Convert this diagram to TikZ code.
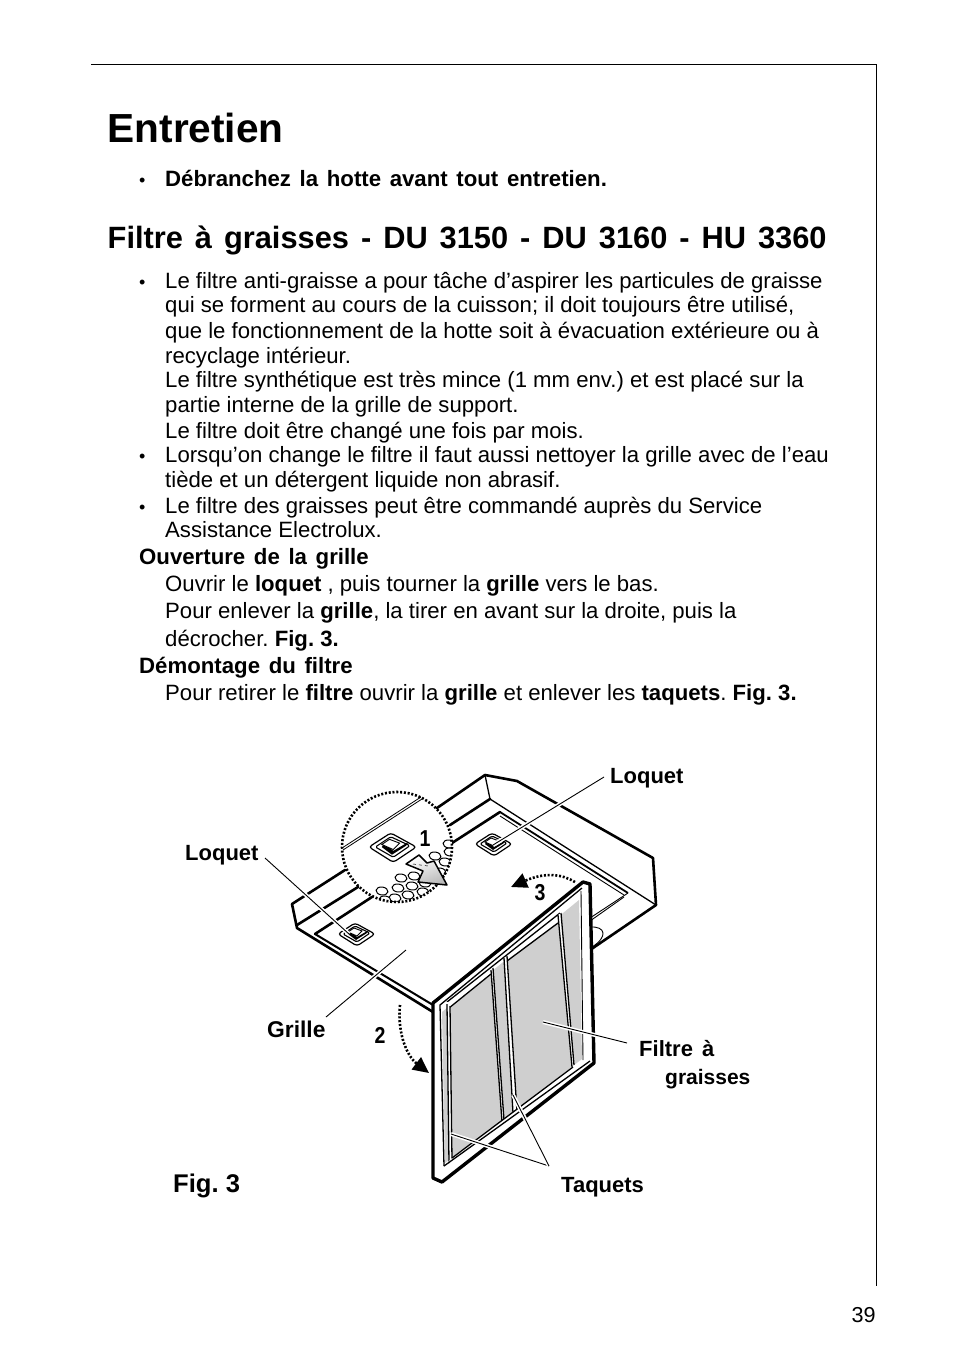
\documentclass[tikz,border=0pt]{standalone}
\usepackage{graphicx}
\usepackage{fontspec}
\setmainfont{Liberation Sans}
\newfontfamily\widebold[WordSpace=1.4]{Liberation Sans Bold}
\usetikzlibrary{arrows.meta,shadings,shapes.geometric}
\newcommand{\stepnum}[1]{\scalebox{0.85}[1]{#1}}
\tikzset{
    bodytext/.style={anchor=base west, inner sep=0pt, font=\fontsize{22.15}{24}\selectfont},
    bulletmark/.style={anchor=base west, inner sep=0pt, font=\fontsize{18}{20}\selectfont},
    subhead/.style={bodytext, font=\fontsize{22.21}{24}\selectfont\widebold},
    callout/.style={anchor=base west, inner sep=0pt, font=\fontsize{22}{24}\selectfont\bfseries},
    stepmark/.style={anchor=base, inner sep=0pt, font=\fontsize{23}{26}\selectfont\bfseries},
    thick edge/.style={line width=2.6pt, line join=round, line cap=round},
    thin edge/.style={line width=0.9pt},
    frame edge/.style={line width=1.3pt},
    leader/.style={line width=0.9pt, preaction={draw, white, line width=4pt}},
    dots/.style={line width=2.6pt, dash pattern=on 2pt off 1.8pt},
    hole/.style={draw, fill=white, line width=1pt},
    latch/.pic={
        \draw [line width=1.2pt, fill=white, rounded corners=3pt] (-18,0) -- (-1,-11) -- (19,0) -- (1,12) -- cycle;
        \draw [line width=1.1pt, fill=white, rounded corners=1.5pt] (-13,0) -- (-1,-8) -- (14,-1) -- (1,8) -- cycle;
        \fill [black] (-8,0) -- (0,6) -- (11,-1) -- (13,-4) -- (1,3) -- (-6,-3) -- cycle;
        \draw [line width=0.9pt, fill=white] (-8,-2) -- (-2,-6) -- (6,-3) -- (1,2) -- cycle;
    },
}
\frenchspacing
\begin{document}
\begin{tikzpicture}[x=1pt, y=-1pt, >={Triangle[length=16pt, width=15pt]}]
    \useasboundingbox (0,0) rectangle (954,1352);
    % Page rule
    \draw [line width=0.9pt] (91,64.6) -- (876.6,64.6) -- (876.6,1286);

    % Text
    \node [anchor=base west, inner sep=0pt, font=\fontsize{40.6}{44}\selectfont\bfseries] (title) at (107.5,142) {Entretien};
    \node [bulletmark] (b0) at (139,186) {•};
    \node [subhead] (warn) at (165,186) {Débranchez la hotte avant tout entretien.};
    \node [anchor=base west, inner sep=0pt, font=\fontsize{30.8}{32}\selectfont\widebold] (head) at (107.5,248) {Filtre à graisses - DU 3150 - DU 3160 - HU 3360};
    \node [bulletmark] (b1) at (139,288) {•};
    \node [bodytext] (l1) at (165,288) {Le filtre anti-graisse a pour tâche d’aspirer les particules de graisse};
    \node [bodytext] (l2) at (165,312) {qui se forment au cours de la cuisson; il doit toujours être utilisé,};
    \node [bodytext] (l3) at (165,338) {que le fonctionnement de la hotte soit à évacuation extérieure ou à};
    \node [bodytext] (l4) at (165,363) {recyclage intérieur.};
    \node [bodytext] (l5) at (165,387) {Le filtre synthétique est très mince (1 mm env.) et est placé sur la};
    \node [bodytext] (l6) at (165,412) {partie interne de la grille de support.};
    \node [bodytext] (l7) at (165,438) {Le filtre doit être changé une fois par mois.};
    \node [bulletmark] (b2) at (139,462) {•};
    \node [bodytext] (l8) at (165,462) {Lorsqu’on change le filtre il faut aussi nettoyer la grille avec de l’eau};
    \node [bodytext] (l9) at (165,487) {tiède et un détergent liquide non abrasif.};
    \node [bulletmark] (b3) at (139,513) {•};
    \node [bodytext] (l10) at (165,513) {Le filtre des graisses peut être commandé auprès du Service};
    \node [bodytext] (l11) at (165,537) {Assistance Electrolux.};
    \node [subhead] (open) at (139,564) {Ouverture de la grille};
    \node [bodytext] (l12) at (165,591) {Ouvrir le \textbf{loquet} , puis tourner la \textbf{grille} vers le bas.};
    \node [bodytext] (l13) at (165,618) {Pour enlever la \textbf{grille}, la tirer en avant sur la droite, puis la};
    \node [bodytext] (l14) at (165,646) {décrocher. \textbf{Fig. 3.}};
    \node [subhead] (dism) at (139,673) {Démontage du filtre};
    \node [bodytext] (l15) at (165,700) {Pour retirer le \textbf{filtre} ouvrir la \textbf{grille} et enlever les \textbf{taquets}. \textbf{Fig. 3.}};
    \node [anchor=base west, inner sep=0pt, font=\fontsize{21.6}{24}\selectfont] (page) at (851.5,1322) {39};

    % Hood
    \draw [thick edge] (437,808) -- (485,775) -- (517,781) -- (653,858) -- (656,905) -- (590,950);
    \draw [thick edge] (345,870) -- (292,904) -- (297,928) -- (433,1012);
    \draw [line width=1.3pt] (485,775) -- (490,799) -- (656,905);
    \draw [thick edge] (490,799) -- (450,825);
    \draw [thick edge] (500,812) -- (452,843);
    \draw [thick edge] (297,925) -- (358,887);
    \draw [thick edge] (315,934) -- (372,897);
    \draw [line width=1.8pt] (500,812) -- (628,893);
    \draw [thin edge] (500,816) -- (624,895);
    \draw [thin edge] (628,893) -- (590,918);
    \draw [thin edge] (624,897) -- (590,921);
    \draw [line width=2pt] (315,934) -- (433,1005);
    \draw [thin edge] (590,927) .. controls (606,926) and (608,937) .. (592,947);

    % Magnified circle
    \begin{scope}
        \clip (397,847) circle (55);
        \foreach \hx/\hy [count=\hn] in {435/856, 445/862, 449/844, 425/883, 412/886, 398/888, 401/878, 414/876, 423/892, 408/895, 395/898, 382/891, 385/900, 440/872, 450/852}
            \node [hole, ellipse, minimum width=12pt, minimum height=8pt, inner sep=0pt, rotate=-8] (hole\hn) at (\hx,\hy) {};
    \end{scope}
    \draw [dots] (397,847) circle (55);
    \draw [line width=0.8pt] (342,848) -- (421,797);
    \draw [line width=0.8pt] (343,850) -- (422,799);
    \pic [scale=1.28] at (392,847) {latch};
    \pic at (493,844) {latch};
    \pic at (356,934) {latch};
    \draw [line width=1.5pt, line join=round, left color=white, right color=gray!55, shading angle=20]
        (406,864) -- (419,855) -- (427,863) -- (434,861) -- (447,885) -- (418,882) -- (423,871) -- cycle;
    \draw [line width=0.5pt, dashed] (413,864) -- (428,866);

    % Filter panel
    \draw [line width=3.4pt, line join=round, fill=white] (433,1003) -- (583,882) -- (590,884) -- (594,1063) -- (442,1182) -- (433,1178) -- cycle;
    \fill [gray!38] (442,1012) -- (579,900) -- (582,1059) -- (445,1163) -- cycle;
    \draw [frame edge] (444,1166) -- (440,1005) -- (582,888);
    \draw [thin edge] (581,891) -- (583,1060);
    % top strip
    \fill [white] (447,1002) -- (493,966) -- (493,973) -- (449,1008) -- cycle;
    \fill [white] (505,956) -- (560,913) -- (558,922) -- (507,960) -- cycle;
    \draw [frame edge] (447,1002) -- (560,913);
    \draw [frame edge] (449,1008) -- (491,974);
    \draw [frame edge] (507,961) -- (558,923);
    % bars
    \fill [white] (447,1002) -- (450,1002) -- (452,1160) -- (449,1163) -- cycle;
    \draw [frame edge] (447,1004) -- (449,1163);
    \draw [frame edge] (450,1006) -- (452,1160);
    \fill [white] (491,970) -- (493,968) -- (504,1120) -- (502,1122) -- cycle;
    \draw [frame edge] (491,970) -- (502,1122);
    \draw [frame edge] (493,968) -- (504,1120);
    \fill [white] (504,958) -- (507,956) -- (517,1112) -- (513,1113) -- cycle;
    \draw [frame edge] (504,958) -- (513,1113);
    \draw [frame edge] (507,956) -- (517,1112);
    \fill [white] (558,915) -- (561,913) -- (574,1065) -- (572,1067) -- cycle;
    \draw [frame edge] (558,915) -- (572,1067);
    \draw [frame edge] (561,913) -- (574,1065);
    % bottom strip
    \fill [white] (452,1158) -- (573,1067) -- (590,1060) -- (445,1165) -- cycle;
    \draw [frame edge] (452,1158) -- (573,1067);
    \draw [frame edge] (444,1166) -- (590,1061);

    % Labels
    \node [callout] (loquetr) at (610,783) {Loquet};
    \node [callout] (loquetl) at (185,860) {Loquet};
    \node [callout, font=\fontsize{22.8}{24}\selectfont\bfseries] (grille) at (267,1037) {Grille};
    \node [callout] (filtre) at (639,1056) {Filtre\hspace{3pt} à};
    \node [callout, font=\fontsize{21}{24}\selectfont\bfseries] (graisses) at (665,1084) {graisses};
    \node [callout] (taquets) at (561,1192) {Taquets};
    \node [anchor=base west, inner sep=0pt, font=\fontsize{25.6}{26}\selectfont\bfseries] (fig) at (173,1192) {Fig. 3};
    \node [stepmark] (one) at (425,846) {\stepnum{1}};
    \node [stepmark] (two) at (380,1043) {\stepnum{2}};
    \node [stepmark] (three) at (540,900) {\stepnum{3}};

    % Leaders
    \coordinate (latchr) at (493,845);
    \coordinate (latchl) at (349,934);
    \coordinate (grillept) at (406,950);
    \coordinate (filtrept) at (543,1022);
    \coordinate (taqa) at (451,1134);
    \coordinate (taqb) at (513,1095);
    \coordinate (taqc) at (549,1166);
    \draw [leader] (604,777) -- (latchr);
    \draw [leader] (265,858) -- (latchl);
    \draw [leader] (326,1017) -- (grillept);
    \draw [leader] (627,1043) -- (filtrept);
    \draw [leader] (taqa) -- (taqc);
    \draw [leader] (taqc) -- (taqb);

    % Motion arrows
    \draw [dots, ->] (400,1005) .. controls (397,1035) and (408,1057) .. (429,1073);
    \draw [dots, ->] (575,882) .. controls (562,874) and (545,872) .. (511,887);
\end{tikzpicture}
\end{document}
